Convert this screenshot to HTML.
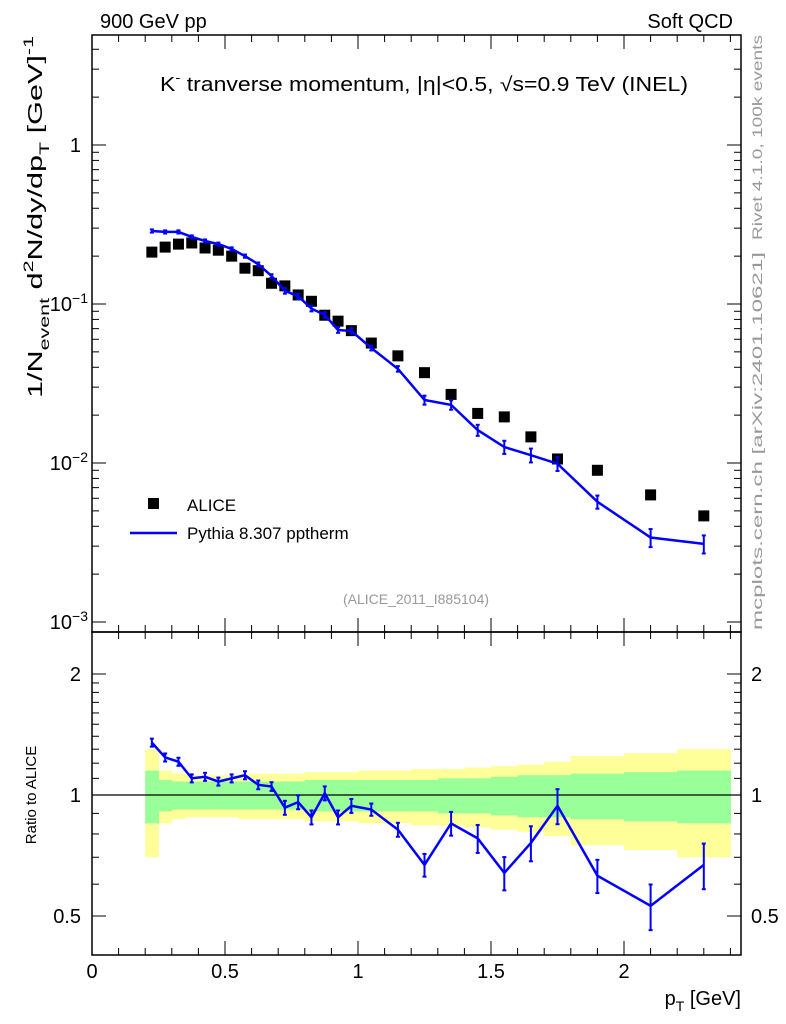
<!DOCTYPE html>
<html><head><meta charset="utf-8"><style>
html,body{margin:0;padding:0;background:#fff;}
svg{display:block;font-family:"Liberation Sans",sans-serif;}
</style></head><body>
<svg id="c" width="786" height="1024" viewBox="0 0 786 1024" xmlns="http://www.w3.org/2000/svg"></svg>
<script>
const xs=[0.225,0.275,0.325,0.375,0.425,0.475,0.525,0.575,0.625,0.675,0.725,0.775,0.825,0.875,0.925,0.975,1.05,1.15,1.25,1.35,1.45,1.55,1.65,1.75,1.9,2.1,2.3];
const binEdges=[0.2,0.25,0.3,0.35,0.4,0.45,0.5,0.55,0.6,0.65,0.7,0.75,0.8,0.85,0.9,0.95,1.0,1.1,1.2,1.3,1.4,1.5,1.6,1.7,1.8,2.0,2.2,2.4];
const alice=[0.212,0.228,0.238,0.242,0.225,0.218,0.200,0.168,0.162,0.135,0.130,0.114,0.104,0.085,0.078,0.068,0.0568,0.0472,0.037,0.027,0.0205,0.0195,0.0146,0.0106,0.0090,0.0063,0.00465];
const pythia=[0.288,0.284,0.284,0.264,0.249,0.238,0.222,0.200,0.178,0.150,0.121,0.112,0.0936,0.0854,0.0686,0.0677,0.0529,0.0391,0.0249,0.0232,0.0161,0.0126,0.0112,0.0099,0.0057,0.0034,0.0031];
const ratio=[1.35,1.24,1.21,1.10,1.11,1.08,1.10,1.12,1.06,1.05,0.93,0.96,0.88,1.01,0.88,0.94,0.92,0.82,0.67,0.85,0.78,0.64,0.76,0.94,0.63,0.53,0.67];
const relErr=[0.023,0.023,0.023,0.023,0.023,0.023,0.023,0.023,0.025,0.025,0.04,0.04,0.04,0.04,0.04,0.04,0.035,0.04,0.065,0.068,0.08,0.095,0.10,0.10,0.095,0.13,0.13];
const greenBand=[0.15,0.09,0.08,0.08,0.08,0.08,0.08,0.08,0.08,0.08,0.08,0.08,0.09,0.09,0.09,0.09,0.09,0.09,0.09,0.10,0.10,0.11,0.12,0.12,0.13,0.14,0.15];
const yellowBand=[0.30,0.15,0.13,0.12,0.12,0.12,0.12,0.13,0.13,0.13,0.13,0.13,0.14,0.14,0.14,0.14,0.15,0.15,0.16,0.16,0.17,0.18,0.19,0.21,0.25,0.27,0.30];
const xTicks=[0,0.5,1,1.5,2];
const xTickLabels=["0","0.5","1","1.5","2"];
const rTicks=[0.5,1,2];
const rTickLabels=["0.5","1","2"];

const NS="http://www.w3.org/2000/svg";
const svg=document.getElementById('c');
function el(tag,attrs,parent,text){const e=document.createElementNS(NS,tag);for(const k in attrs)e.setAttribute(k,attrs[k]);if(text!==undefined)e.textContent=text;(parent||svg).appendChild(e);return e;}
const L=92,R=741,T=35,M=632,B=955;
const X=v=>L+v*266;
const Y=v=>145-Math.log10(v)*159;
const RY=v=>795-Math.log10(v)*402;

const bands=el('g',{},svg);


for(let i=0;i<xs.length;i++){
  const x0=X(binEdges[i]),x1=X(binEdges[i+1]);
  const y=el('rect',{x:x0,y:RY(1+yellowBand[i]),width:x1-x0+0.5,height:RY(1-yellowBand[i])-RY(1+yellowBand[i]),fill:'#ffff99'},bands);
  
  
}
for(let i=0;i<xs.length;i++){
  const x0=X(binEdges[i]),x1=X(binEdges[i+1]);
  const g=el('rect',{x:x0,y:RY(1+greenBand[i]),width:x1-x0+0.5,height:RY(1-greenBand[i])-RY(1+greenBand[i]),fill:'#99ff99'},bands);
  
  
}
const one=el('line',{x1:L,x2:R,y1:RY(1),y2:RY(1),stroke:'#000','stroke-width':1.3});



const f1=el('rect',{x:L,y:T,width:R-L,height:M-T,fill:'none',stroke:'#000','stroke-width':1.5});


const f2=el('rect',{x:L,y:M,width:R-L,height:B-M,fill:'none',stroke:'#000','stroke-width':1.5});



const tg=el('g',{stroke:'#000','stroke-width':1},svg);
for(let k=0;k<=24;k++){
  const v=k/10,x=X(v);if(x>R)break;
  const major=k%5===0,len=major?14:7;
  el('line',{x1:x,x2:x,y1:T,y2:T+len},tg);
  el('line',{x1:x,x2:x,y1:M,y2:M-len},tg);
  el('line',{x1:x,x2:x,y1:M,y2:M+len},tg);
  el('line',{x1:x,x2:x,y1:B,y2:B-len},tg);
}
xTicks.forEach((v,i)=>{
  const t=el('text',{x:X(v),y:978,'font-size':20,'text-anchor':'middle'},svg,xTickLabels[i]);
  
  
});
for(let d=-3;d<=0;d++){
  for(let m=1;m<=9;m++){
    const v=m*Math.pow(10,d),y=Y(v);
    if(y<T||y>M)continue;
    const len=m===1?14:7;
    el('line',{x1:L,x2:L+len,y1:y,y2:y},tg);
    el('line',{x1:R,x2:R-len,y1:y,y2:y},tg);
  }
}
const yLabs=[[1,'1',''],[0.1,'10','−1'],[0.01,'10','−2'],[0.001,'10','−3']];
yLabs.forEach(a=>{
  const t=el('text',{x:a[2]?88:81,y:Y(a[0])+7,'font-size':20,'text-anchor':'end'},svg);
  
  
  el('tspan',{},t,a[1]);
  if(a[2]) el('tspan',{dy:-8,'font-size':14},t,a[2]);
});
for(let k=4;k<=25;k++){
  const v=k/10;const y=RY(v);if(y<M||y>B)continue;
  if(v>2&&k!==20)continue;
  const major=(k===5||k===10||k===20),len=major?14:7;
  el('line',{x1:L,x2:L+len,y1:y,y2:y},tg);
  el('line',{x1:R,x2:R-len,y1:y,y2:y},tg);
}
rTicks.forEach((v,i)=>{
  const t=el('text',{x:81,y:RY(v)+7,'font-size':20,'text-anchor':'end'},svg,rTickLabels[i]);
  
  
  const t2=el('text',{x:751,y:RY(v)+7,'font-size':20,'text-anchor':'start'},svg,rTickLabels[i]);
  
  
});

xs.forEach((v,i)=>{
  const r=el('rect',{x:X(v)-5.5,y:Y(alice[i])-5.5,width:11,height:11,fill:'#000'});
  
  
});
function drawSeries(fy,vals,name){
  const g=el('g',{stroke:'#0000ff','stroke-width':2.5,fill:'none'});
  
  
  el('polyline',{points:xs.map((v,i)=>X(v)+','+fy(vals[i])).join(' ')},g);
  xs.forEach((v,i)=>{
    const x=X(v),y1=fy(vals[i]*(1+relErr[i])),y2=fy(vals[i]*(1-relErr[i]));
    el('line',{x1:x,x2:x,y1:y1,y2:y2,'stroke-width':2},g);
    el('line',{x1:x-2,x2:x+2,y1:y1,y2:y1,'stroke-width':2},g);
    el('line',{x1:x-2,x2:x+2,y1:y2,y2:y2,'stroke-width':2},g);
  });
}
drawSeries(Y,pythia,'pythia-line');
drawSeries(RY,ratio,'pythia-ratio-line');
</script>
<svg width="786" height="1024" style="position:absolute;left:0;top:0" xmlns="http://www.w3.org/2000/svg" font-family="Liberation Sans, sans-serif">
<text x="100" y="28" font-size="20">900 GeV pp</text>
<text x="733" y="28" font-size="20" text-anchor="end">Soft QCD</text>
<text x="160" y="91" font-size="20" textLength="528" lengthAdjust="spacingAndGlyphs">K<tspan dy="-9" font-size="13">-</tspan><tspan dy="9"> tranverse momentum, |η|&lt;0.5, √s=0.9 TeV (INEL)</tspan></text>
<rect x="148" y="498" width="11" height="11" fill="#000"/>
<text x="187" y="511" font-size="17">ALICE</text>
<line x1="130" x2="177" y1="533" y2="533" stroke="#0000ff" stroke-width="2.5"/>
<text x="187" y="539" font-size="17">Pythia 8.307 pptherm</text>
<text x="416" y="604" font-size="14" fill="#999" text-anchor="middle">(ALICE_2011_I885104)</text>
<text transform="translate(42,398) rotate(-90)" font-size="20" textLength="362" lengthAdjust="spacingAndGlyphs">1/N<tspan dy="7" font-size="14">event</tspan><tspan dy="-7"> d</tspan><tspan dy="-9" font-size="14">2</tspan><tspan dy="9">N/dy/dp</tspan><tspan dy="7" font-size="14">T</tspan><tspan dy="-7">  [GeV]</tspan><tspan dy="-9" font-size="14">-1</tspan></text>
<text transform="translate(36,795) rotate(-90)" font-size="15" text-anchor="middle">Ratio to ALICE</text>
<text x="741" y="1005" font-size="20" text-anchor="end">p<tspan dy="6" font-size="14">T</tspan><tspan dy="-6"> [GeV]</tspan></text>
<text transform="translate(762,35) rotate(-90)" font-size="14" fill="#999" text-anchor="end" textLength="205" lengthAdjust="spacingAndGlyphs">Rivet 4.1.0,  100k events</text>
<text transform="translate(762,630) rotate(-90)" font-size="14" fill="#999" text-anchor="start" textLength="378" lengthAdjust="spacingAndGlyphs">mcplots.cern.ch [arXiv:2401.10621]</text>
</svg>
</body></html>
